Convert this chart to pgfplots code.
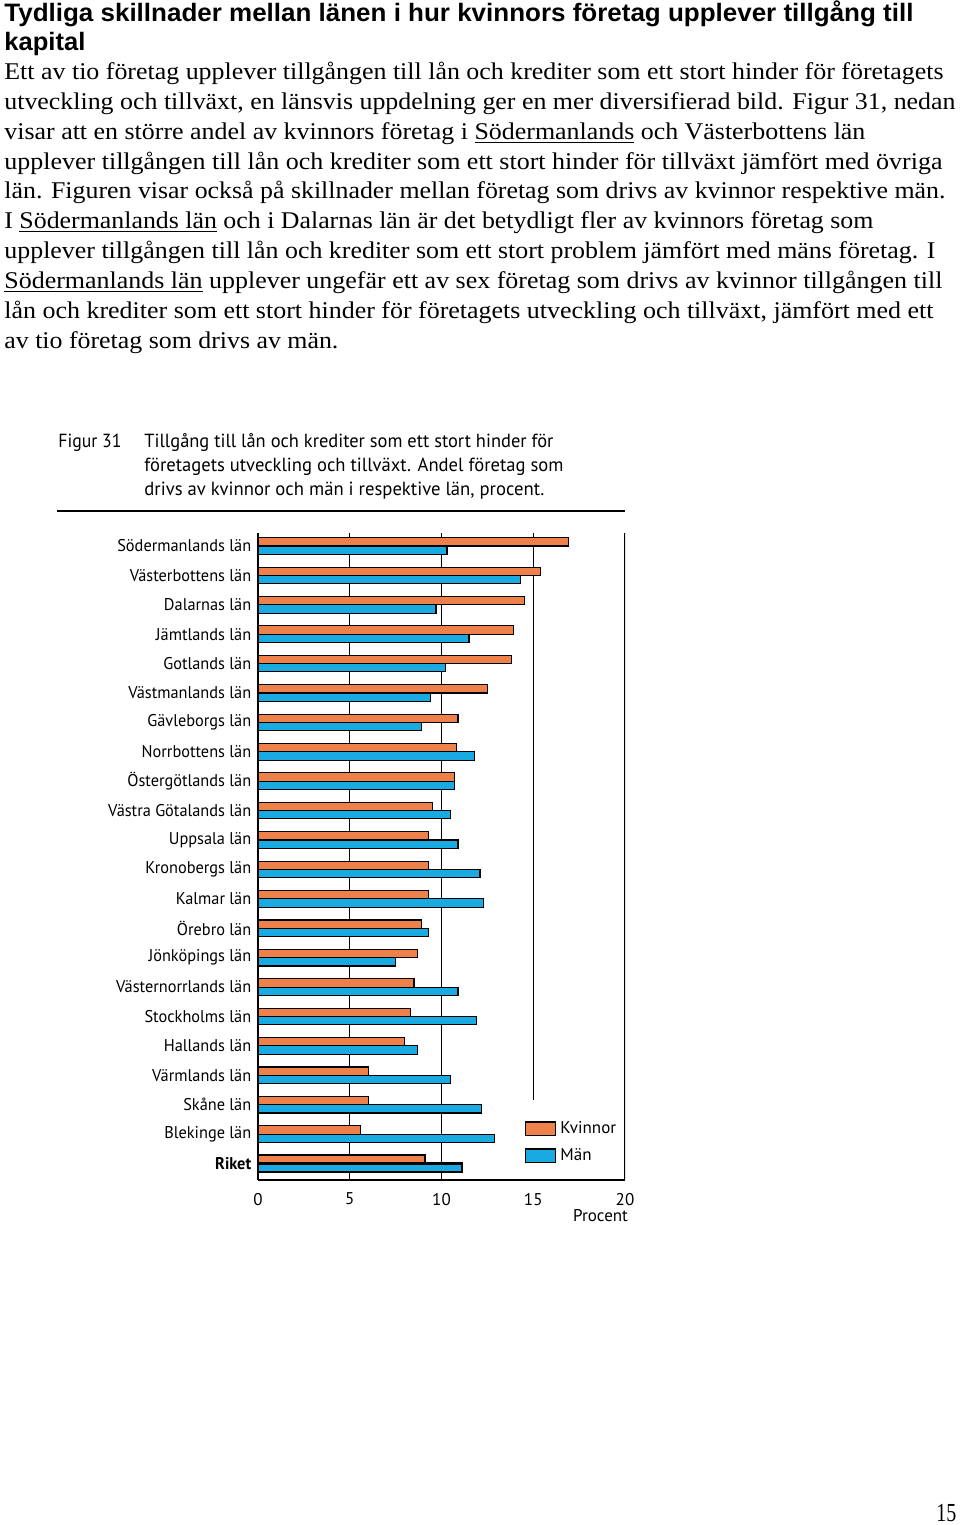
\documentclass[border=0pt]{standalone}
\usepackage{pgfplots}
\pgfplotsset{compat=1.18}
\usepackage{fontspec}
\setmainfont{Liberation Serif}
\newfontfamily\headfont{Liberation Sans}
\newfontfamily\chartfont{PT Sans}
\definecolor{kv}{RGB}{238,128,73}
\definecolor{mn}{RGB}{24,170,225}

% one line of page text: x, baseline (pixels from top left), width in pt, text
\newcommand\tline[4]{\node[anchor=base west,inner sep=0pt] at (#1,#2) {\resizebox{#3pt}{\height}{#4}};}

\pgfplotsset{boxlegend/.style={legend image code/.code={\draw[##1] (0pt,-3.3pt) rectangle (15pt,3.3pt);}}}

\begin{document}
\begin{tikzpicture}[x=0.5pt,y=-0.5pt]
\path[use as bounding box] (0,0) rectangle (960,1525);

% heading
\begin{scope}[every node/.style={font=\headfont\bfseries\fontsize{12.6}{15}\selectfont}]
\tline{4}{22}{454.5}{Tydliga skillnader mellan länen i hur kvinnors företag upplever tillgång till}
\tline{4}{51}{40.5}{kapital}
\end{scope}

% body text
\begin{scope}[every node/.style={font=\fontsize{12}{14}\selectfont}]
\tline{4}{79.5}{469.5}{Ett av tio företag upplever tillgången till lån och krediter som ett stort hinder för företagets}
\tline{4}{109.4}{475.5}{utveckling och tillväxt, en länsvis uppdelning ger en mer diversifierad bild. Figur 31, nedan}
\tline{4}{139.2}{430.5}{visar att en större andel av kvinnors företag i \underline{Södermanlands} och Västerbottens län}
\tline{4}{169.1}{469}{upplever tillgången till lån och krediter som ett stort hinder för tillväxt jämfört med övriga}
\tline{4}{198.9}{470.5}{län. Figuren visar också på skillnader mellan företag som drivs av kvinnor respektive män.}
\tline{4}{228.8}{434.5}{I \underline{Södermanlands län} och i Dalarnas län är det betydligt fler av kvinnors företag som}
\tline{4}{258.6}{465.5}{upplever tillgången till lån och krediter som ett stort problem jämfört med mäns företag. I}
\tline{4}{288.5}{469}{\underline{Södermanlands län} upplever ungefär ett av sex företag som drivs av kvinnor tillgången till}
\tline{4}{318.3}{464.5}{lån och krediter som ett stort hinder för företagets utveckling och tillväxt, jämfört med ett}
\tline{4}{348.2}{167}{av tio företag som drivs av män.}
\end{scope}

% figure caption
\begin{scope}[every node/.style={font=\chartfont\fontsize{9.5}{11}\selectfont}]
\tline{58}{447.5}{31.5}{Figur 31}
\tline{144}{447.5}{204.5}{Tillgång till lån och krediter som ett stort hinder för}
\tline{144}{471.5}{209.5}{företagets utveckling och tillväxt. Andel företag som}
\tline{144}{495.5}{200}{drivs av kvinnor och män i respektive län, procent.}
\end{scope}
\draw[line width=0.75pt] (57,511) -- (625,511);

% page number
\node[anchor=base west,inner sep=0pt,font=\fontsize{13}{15}\selectfont] at (936,1521) {\resizebox{10pt}{\height}{15}};

\begin{axis}[
  at={(129pt,-590pt)}, anchor=south west,
  scale only axis, width=183.5pt, height=323.5pt,
  xmin=0, xmax=20, ymin=-0.56, ymax=21.44,
  xbar, bar width=4.15pt,
  every axis plot post/.append style={boxlegend},
  axis x line=bottom, axis y line=left,
  axis line style={-, black, line width=0.6pt},
  xtick={0,5,10,15,20},
  ytick={0,...,21},
  yticklabels={\textbf{Riket}, Blekinge län, Skåne län, Värmlands län, Hallands län,
    Stockholms län, Västernorrlands län, Jönköpings län, Örebro län, Kalmar län,
    Kronobergs län, Uppsala län, Västra Götalands län, Östergötlands län,
    Norrbottens län, Gävleborgs län, Västmanlands län, Gotlands län,
    Jämtlands län, Dalarnas län, Västerbottens län, Södermanlands län},
  major tick length=0pt,
  tick label style={font=\chartfont\fontsize{8.5}{10}\selectfont,
    /pgf/number format/assume math mode=true},
  yticklabel style={xscale=0.96},
  xticklabel style={yshift=-3pt},
  xlabel={Procent},
  xlabel style={at={(rel axis cs:1,0)}, anchor=north east, yshift=-11pt, xshift=5pt,
    font=\chartfont\fontsize{8.5}{10}\selectfont},
  legend style={draw=none, fill=none, at={(axis cs:14.55,0.73)}, anchor=west,
    inner sep=0pt, row sep=2pt, font=\chartfont\fontsize{8.5}{10}\selectfont,
    /tikz/every even column/.append style={column sep=1.5pt}},
  legend cell align=left,
]
\draw[black, line width=0.5pt] (axis cs:5,-0.56) -- (axis cs:5,21.44);
\draw[black, line width=0.5pt] (axis cs:10,-0.56) -- (axis cs:10,21.44);
\draw[black, line width=0.5pt] (axis cs:15,2.16) -- (axis cs:15,21.44);
\draw[black, line width=0.6pt] (axis cs:20,-0.56) -- (axis cs:20,21.44);

% Kvinnor
\addplot[fill=kv, draw=black, line width=0.55pt, bar shift=2.075pt] coordinates {
  (5.6,1) (6.0,2) (6.0,3) (8.0,4) (8.3,5) (8.5,6) (8.7,7) (8.9,8) (9.3,9)
  (9.3,10) (9.3,11) (9.5,12) (10.7,13) (10.8,14) (10.9,15) (12.5,16) (13.8,17)
  (13.9,18) (14.5,19) (15.4,20) (16.9,21)};
\addlegendentry{Kvinnor}
% Män
\addplot[fill=mn, draw=black, line width=0.55pt, bar shift=-2.075pt] coordinates {
  (12.9,1) (12.2,2) (10.5,3) (8.7,4) (11.9,5) (10.9,6) (7.5,7) (9.3,8) (12.3,9)
  (12.1,10) (10.9,11) (10.5,12) (10.7,13) (11.8,14) (8.9,15) (9.4,16) (10.2,17)
  (11.5,18) (9.7,19) (14.3,20) (10.3,21)};
\addlegendentry{Män}
% Riket, thicker outline
\addplot[forget plot, fill=kv, draw=black, line width=1.1pt, bar shift=2.075pt] coordinates {(9.1,0)};
\addplot[forget plot, fill=mn, draw=black, line width=1.1pt, bar shift=-2.075pt] coordinates {(11.1,0)};
\end{axis}
\end{tikzpicture}
\end{document}
